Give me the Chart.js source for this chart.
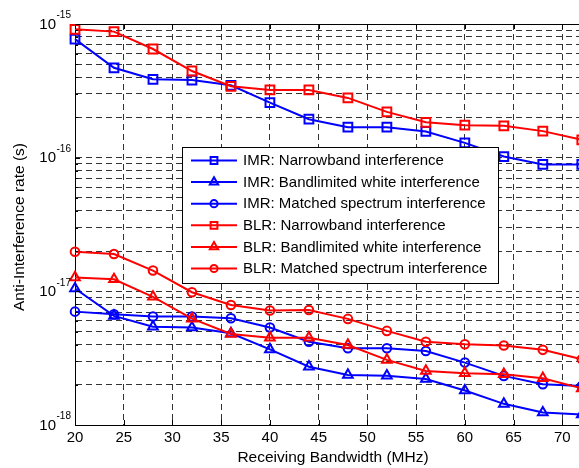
<!DOCTYPE html>
<html>
<head>
<meta charset="utf-8">
<script src="https://cdn.jsdelivr.net/npm/chart.js@4/dist/chart.umd.min.js"></script>
<style>
  html, body { margin: 0; padding: 0; background: #fff; overflow: hidden; }
  #wrap { position: relative; width: 590px; height: 468px; }
</style>
</head>
<body>
<div id="wrap"><canvas id="chart"></canvas></div>
<script>
// Receiving bandwidth (MHz)
const bandwidth = [20, 24, 28, 32, 36, 40, 44, 48, 52, 56, 60, 64, 68, 72];
const xTicks = [20, 25, 30, 35, 40, 45, 50, 55, 60, 65, 70];
const decades = [-18, -17, -16, -15];

// Anti-interference rate (s)
const imrNarrow  = [7.7e-16, 4.7e-16, 3.86e-16, 3.81e-16, 3.48e-16, 2.58e-16, 1.94e-16, 1.69e-16, 1.69e-16, 1.57e-16, 1.29e-16, 1.02e-16, 8.9e-17, 8.9e-17];
const imrWhite   = [1.05e-17, 6.55e-18, 5.44e-18, 5.36e-18, 4.85e-18, 3.68e-18, 2.73e-18, 2.37e-18, 2.34e-18, 2.21e-18, 1.81e-18, 1.44e-18, 1.24e-18, 1.2e-18];
const imrMatched = [7.05e-18, 6.74e-18, 6.47e-18, 6.47e-18, 6.29e-18, 5.36e-18, 4.2e-18, 3.75e-18, 3.75e-18, 3.58e-18, 2.93e-18, 2.33e-18, 2.02e-18, 1.96e-18];
const blrNarrow  = [9.12e-16, 8.77e-16, 6.5e-16, 4.45e-16, 3.42e-16, 3.21e-16, 3.21e-16, 2.8e-16, 2.2e-16, 1.84e-16, 1.75e-16, 1.73e-16, 1.58e-16, 1.36e-16];
const blrWhite   = [1.27e-17, 1.23e-17, 9.1e-18, 6.25e-18, 4.8e-18, 4.5e-18, 4.5e-18, 3.97e-18, 3.07e-18, 2.54e-18, 2.44e-18, 2.4e-18, 2.24e-18, 1.88e-18];
const blrMatched = [1.98e-17, 1.9e-17, 1.43e-17, 9.85e-18, 7.9e-18, 7.18e-18, 7.25e-18, 6.22e-18, 5.06e-18, 4.2e-18, 4.02e-18, 3.93e-18, 3.65e-18, 3.1e-18];

const labels = [
  'IMR: Narrowband interference',
  'IMR: Bandlimited white interference',
  'IMR: Matched spectrum interference',
  'BLR: Narrowband interference',
  'BLR: Bandlimited white interference',
  'BLR: Matched spectrum interference'
];
const series = [imrNarrow, imrWhite, imrMatched, blrNarrow, blrWhite, blrMatched];
const colors = ['#0000ff', '#0000ff', '#0000ff', '#ff0000', '#ff0000', '#ff0000'];
const markers = ['rect', 'triangle', 'circle', 'rect', 'triangle', 'circle'];

const FONT = "'Liberation Sans', Arial, sans-serif";
const markerRadius = { rect: 6.2, triangle: 5.6, circle: 4.3 };

// all y ticks 1..9 per decade
const yTicks = [];
decades.forEach(e => {
  for (let s = 1; s <= 9; s++) {
    if (e === -15 && s > 1) break;
    yTicks.push(s * Math.pow(10, e));
  }
});

function drawMarker(ctx, style, x, y, r) {
  ctx.beginPath();
  if (style === 'rect') {
    const h = r * Math.SQRT1_2;
    ctx.rect(x - h, y - h, 2 * h, 2 * h);
  } else if (style === 'triangle') {
    for (let i = 0; i < 3; i++) {
      const a = i * 2 * Math.PI / 3;
      const px = x + Math.sin(a) * r, py = y - Math.cos(a) * r;
      if (i === 0) ctx.moveTo(px, py); else ctx.lineTo(px, py);
    }
    ctx.closePath();
  } else {
    ctx.arc(x, y, r, 0, Math.PI * 2);
  }
  ctx.stroke();
}

const axesPlugin = {
  id: 'matlabAxes',
  afterDraw(chart) {
    const ctx = chart.ctx;
    const { left, right, top, bottom } = chart.chartArea;
    const xs = chart.scales.x, ys = chart.scales.y;
    ctx.save();

    // top border
    ctx.strokeStyle = '#000';
    ctx.lineWidth = 1;
    ctx.beginPath();
    ctx.moveTo(left, Math.round(top) + 0.5);
    ctx.lineTo(right, Math.round(top) + 0.5);
    ctx.stroke();

    // inward tick marks
    ctx.beginPath();
    xTicks.forEach(v => {
      const px = Math.round(xs.getPixelForValue(v)) + 0.5;
      ctx.moveTo(px, bottom); ctx.lineTo(px, bottom - 5);
      ctx.moveTo(px, top); ctx.lineTo(px, top + 5);
    });
    yTicks.forEach(v => {
      const py = Math.round(ys.getPixelForValue(v)) + 0.5;
      const major = Math.abs(Math.log10(v) - Math.round(Math.log10(v))) < 1e-9;
      ctx.moveTo(left, py); ctx.lineTo(left + (major ? 5 : 3), py);
    });
    ctx.stroke();

    // x tick labels
    ctx.fillStyle = '#000';
    ctx.font = '15px ' + FONT;
    ctx.textAlign = 'center';
    ctx.textBaseline = 'middle';
    xTicks.forEach(v => ctx.fillText(String(v), xs.getPixelForValue(v), 438));

    // y tick labels 10^e
    decades.forEach(e => {
      const py = ys.getPixelForValue(Math.pow(10, e));
      ctx.font = '15px ' + FONT;
      ctx.textAlign = 'right';
      ctx.fillText('10', 56, py + 0.5);
      ctx.font = '10px ' + FONT;
      ctx.textAlign = 'left';
      ctx.fillText(String(e), 56.5, py - 8.5);
    });

    // axis titles
    ctx.font = '15.5px ' + FONT;
    ctx.textAlign = 'center';
    ctx.fillText('Receiving Bandwidth (MHz)', 333, 458);
    ctx.save();
    ctx.translate(20, 227);
    ctx.rotate(-Math.PI / 2);
    ctx.fillText('Anti-Interference rate (s)', 0, 0);
    ctx.restore();

    // legend box
    const bx = 182, by = 147, bw = 316, bh = 136;
    ctx.fillStyle = '#fff';
    ctx.fillRect(bx, by, bw, bh);
    ctx.strokeStyle = '#000';
    ctx.lineWidth = 1;
    ctx.strokeRect(bx + 0.5, by + 0.5, bw, bh);
    ctx.font = '15px ' + FONT;
    ctx.textAlign = 'left';
    ctx.textBaseline = 'middle';
    chart.data.datasets.forEach((ds, i) => {
      const ry = 160.5 + i * 21.6;
      ctx.strokeStyle = ds.borderColor;
      ctx.lineWidth = 2;
      ctx.beginPath();
      ctx.moveTo(191, ry); ctx.lineTo(237, ry);
      ctx.stroke();
      drawMarker(ctx, ds.pointStyle, 214, ry, ds.pointStyle === 'circle' ? 3.6 : 4.8);
      ctx.fillStyle = '#000';
      ctx.fillText(ds.label, 243, ry + 0.5);
    });
    ctx.restore();
  }
};

new Chart(document.getElementById('chart'), {
  type: 'line',
  data: {
    datasets: series.map((vals, i) => ({
      label: labels[i],
      data: bandwidth.map((b, j) => ({ x: b, y: vals[j] })),
      borderColor: colors[i],
      backgroundColor: 'rgba(0,0,0,0)',
      borderWidth: 2,
      pointStyle: markers[i],
      pointRadius: markerRadius[markers[i]],
      pointBorderWidth: 2,
      pointBackgroundColor: 'rgba(0,0,0,0)',
      tension: 0,
      order: i < 3 ? 1 : 0,
      clip: false
    }))
  },
  options: {
    responsive: true,
    maintainAspectRatio: false,
    animation: false,
    layout: { padding: { top: 24, right: 7, left: 0, bottom: 0 } },
    plugins: { legend: { display: false }, tooltip: { enabled: false } },
    scales: {
      x: {
        type: 'linear',
        min: 20,
        max: 72,
        afterBuildTicks: s => { s.ticks = xTicks.map(v => ({ value: v })); },
        afterFit: s => { s.height = 43; },
        ticks: { display: false },
        grid: { color: '#333', lineWidth: 1, drawTicks: false },
        border: { display: true, color: '#000', width: 1, dash: [6, 4] }
      },
      y: {
        type: 'logarithmic',
        min: 1e-18,
        max: 1e-15,
        afterBuildTicks: s => { s.ticks = yTicks.map(v => ({ value: v })); },
        afterFit: s => { s.width = 75; },
        ticks: { display: false },
        grid: { color: '#333', lineWidth: 1, drawTicks: false },
        border: { display: true, color: '#000', width: 1, dash: [6, 4] }
      }
    }
  },
  plugins: [axesPlugin]
});
</script>
</body>
</html>
